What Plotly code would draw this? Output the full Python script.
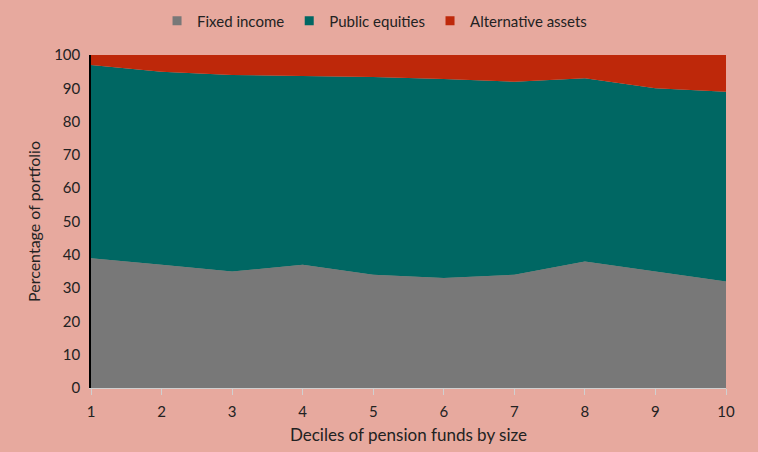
import plotly.graph_objects as go

deciles = [1, 2, 3, 4, 5, 6, 7, 8, 9, 10]
fixed_income = [39, 37, 35, 37, 34, 33, 34, 38, 35, 32]
public_equities = [58, 58, 59, 56.7, 59.4, 59.8, 58, 55, 55, 57]
alternative_assets = [3, 5, 6, 6.3, 6.6, 7.2, 8, 7, 10, 11]

names = ["Fixed income", "Public equities", "Alternative assets"]
colors = ["#787878", "#006763", "#BE280A"]
series = [fixed_income, public_equities, alternative_assets]

fig = go.Figure()
for n, c, s in zip(names, colors, series):
    fig.add_trace(go.Scatter(
        x=deciles, y=s, name=n, stackgroup="one", mode="none",
        fillcolor=c, line=dict(width=0), showlegend=False, legendgroup=n,
    ))
# legend entries with square swatches
for n, c in zip(names, colors):
    fig.add_trace(go.Scatter(
        x=[None], y=[None], name=n, mode="markers", legendgroup=n,
        marker=dict(symbol="square", size=9, color=c),
    ))

font = "Lato, 'Open Sans', sans-serif"
fig.update_layout(
    width=758, height=452,
    paper_bgcolor="#E7A99E", plot_bgcolor="#E7A99E",
    margin=dict(l=91, r=32, t=55, b=64, autoexpand=False),
    font=dict(family=font, size=15, color="#222222"),
    legend=dict(orientation="h", x=0.104, xanchor="left", y=0.99, yanchor="top",
                yref="container", font=dict(size=15), traceorder="normal",
                itemwidth=30, tracegroupgap=0),
    showlegend=True,
)
fig.update_xaxes(
    range=[1, 10], tickvals=deciles, showgrid=False, zeroline=False,
    showline=True, linecolor="#D0D0D0", linewidth=1,
    ticks="outside", tickcolor="#D0D0D0", ticklen=6, ticklabelstandoff=4,
    title=dict(text="Deciles of pension funds by size", font=dict(size=17), standoff=10),
    tickfont=dict(size=15),
)
fig.update_yaxes(
    range=[0, 100], dtick=10, showgrid=False, zeroline=False,
    showline=True, linecolor="#000000", linewidth=1.5,
    ticks="", ticklabelstandoff=6,
    title=dict(text="Percentage of portfolio", font=dict(size=16), standoff=10),
    tickfont=dict(size=15),
)
fig.write_html("out.html")
